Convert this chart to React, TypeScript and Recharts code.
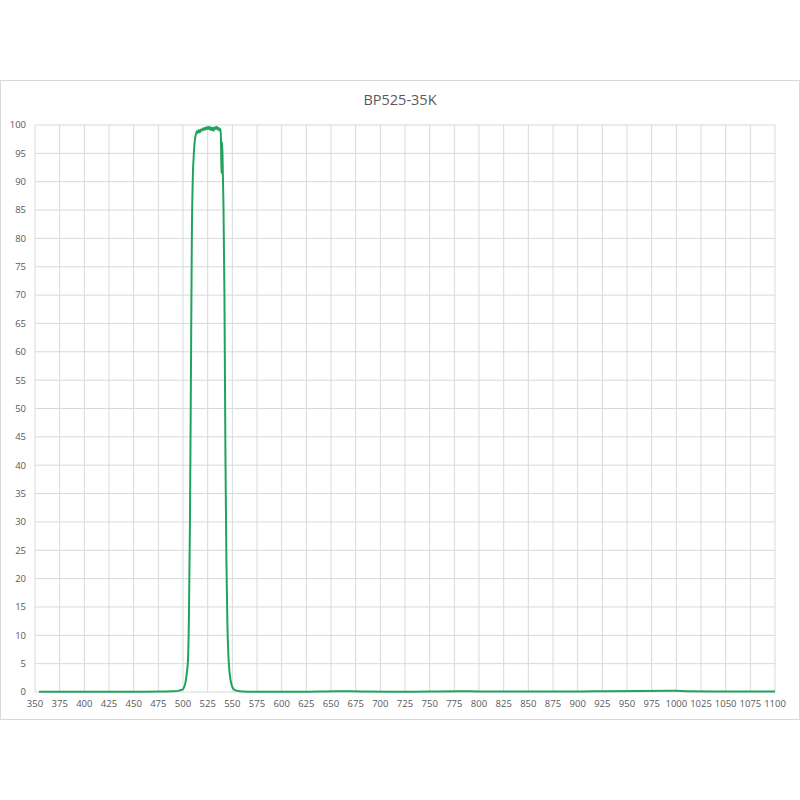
import { CartesianGrid, Line, LineChart, XAxis, YAxis } from "recharts";

// wavelength (nm) and transmission (%)
const wavelengths = [
  354, 380, 420, 460, 480, 490, 495, 498, 500, 501, 502, 503, 504, 505, 506, 507, 508, 509, 510, 511, 512,
  513, 514, 515, 516, 517, 518, 519, 520, 521, 522, 523, 524, 525, 526, 527, 528, 529, 530, 531, 532, 533,
  534, 535, 536, 537, 538, 538.5, 539, 539.5, 540, 541, 542, 543, 544, 545, 546, 547, 548, 549, 550, 552,
  555, 560, 580, 620, 655, 680, 720, 780, 800, 850, 900, 930, 1000, 1010, 1050, 1100,
];
const transmission = [
  0.05, 0.05, 0.05, 0.05, 0.08, 0.12, 0.2, 0.35, 0.5, 0.8, 1.3, 2.2, 3.6, 5.5, 13, 29, 55, 81, 91, 95, 97.3,
  98.3, 98.9, 98.6, 99.1, 98.7, 99.2, 99.0, 99.4, 99.1, 99.5, 99.2, 99.6, 99.3, 99.7, 99.2, 99.6, 99.1, 99.5, 99.0, 99.6, 99.3,
  99.7, 99.2, 99.5, 99.0, 99.3, 97.5, 91.5, 97.0, 95, 86, 70, 42, 23, 12, 6.5, 3.8, 2.3, 1.4, 0.9, 0.4,
  0.2, 0.1, 0.05, 0.05, 0.15, 0.1, 0.05, 0.15, 0.1, 0.1, 0.1, 0.15, 0.2, 0.15, 0.1, 0.1,
];
const xTicks = Array.from({ length: 31 }, (_, i) => 350 + i * 25);
const yTicks = Array.from({ length: 21 }, (_, i) => i * 5);

const data = wavelengths.map((w, i) => ({ w, t: transmission[i] }));

const tick = { fill: "#595959", fontSize: 9.5, fontFamily: "Open Sans" };

export default function App() {
  return (
    <div style={{ position: "absolute", left: 0, top: 0, width: 800, height: 800, background: "#fff" }}>
      <div
        style={{
          position: "absolute", left: 0, top: 80, width: 798, height: 638,
          border: "1px solid #d9d9d9",
        }}
      />
      <div
        style={{
          position: "absolute", left: 0, top: 90, width: 800, height: 20, lineHeight: "20px",
          textAlign: "center", fontFamily: "Open Sans", fontSize: 14.5, color: "#595959",
        }}
      >
        BP525-35K
      </div>
      <div style={{ position: "absolute", left: 0, top: 80 }}>
        <LineChart width={800} height={640} data={data} margin={{ top: 45, right: 25, bottom: 8, left: 0 }}>
          <CartesianGrid stroke="#d9d9d9" horizontalPoints={undefined} />
          <XAxis
            dataKey="w"
            type="number"
            domain={[350, 1100]}
            ticks={xTicks}
            interval={0}
            axisLine={false}
            tickLine={false}
            tick={tick}
            height={20}
            tickMargin={2}
          />
          <YAxis
            type="number"
            domain={[0, 100]}
            ticks={yTicks}
            interval={0}
            axisLine={false}
            tickLine={false}
            tick={tick}
            width={35}
            tickMargin={3}
          />
          <Line
            type="monotone"
            dataKey="t"
            stroke="#22a35c"
            strokeWidth={2}
            dot={false}
            isAnimationActive={false}
          />
        </LineChart>
      </div>
    </div>
  );
}
